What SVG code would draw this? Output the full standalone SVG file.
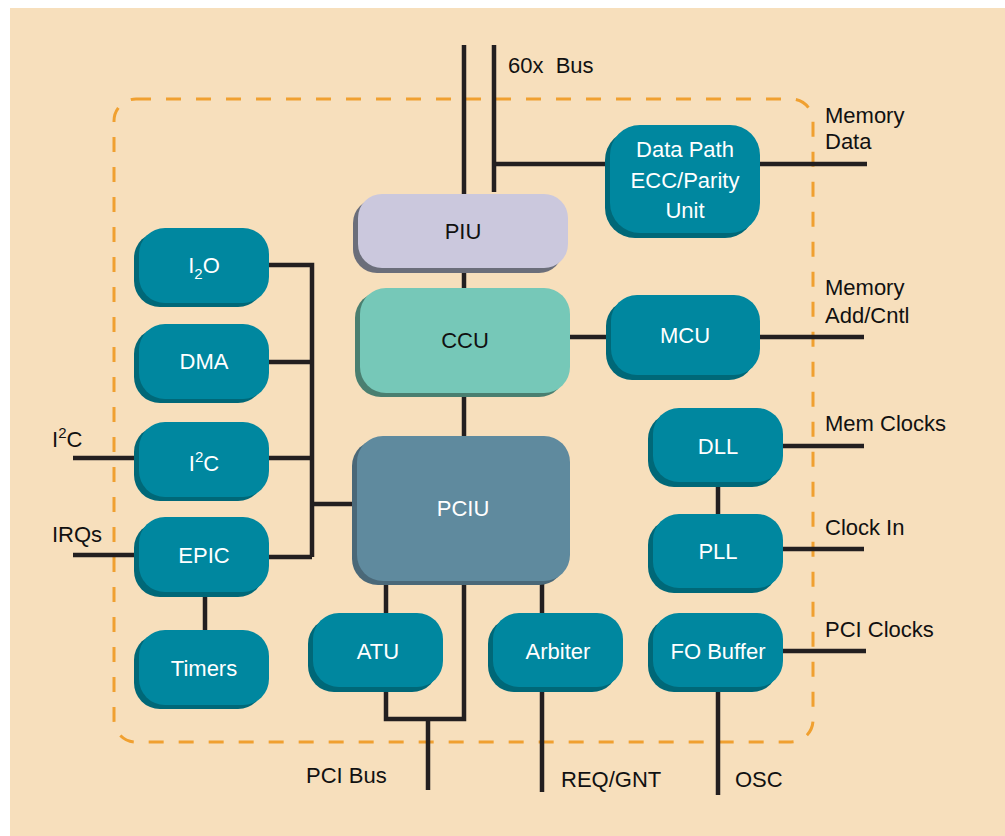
<svg xmlns="http://www.w3.org/2000/svg" width="1005" height="836" viewBox="0 0 1005 836">
  <style>
    .lbl { font-family: "Liberation Sans", Arial, sans-serif; font-size: 22px; fill: #111; }
    .nt { font-family: "Liberation Sans", Arial, sans-serif; font-size: 22px; fill: #ffffff; text-anchor: middle; }
    .nt.dark { fill: #111; }
    .sub { font-size: 15px; }
    .teal { fill: #00879f; }
    .teal-sh { fill: #006878; }
    .wire { stroke: #231f20; stroke-width: 4.5; fill: none; stroke-linecap: butt; }
  </style>

  <!-- page background -->
  <rect x="0" y="0" width="1005" height="836" fill="#ffffff"/>
  <rect x="10" y="8" width="995" height="828" fill="#f7dfbc"/>

  <!-- chip boundary -->
  <rect x="114" y="99" width="699" height="643" rx="22" fill="none" stroke="#f0a030" stroke-width="3" stroke-dasharray="15 15"/>

  <!-- connectors -->
  <g id="connectors" class="wire">
    <!-- 60x bus -->
    <path d="M464 45 V194"/>
    <path d="M494 45 V192"/>
    <path d="M494 164 H606"/>
    <path d="M760 164 H867"/>
    <!-- core chain -->
    <path d="M464 268 V288"/>
    <path d="M464 393 V436"/>
    <path d="M570 337 H611"/>
    <path d="M760 337 H864"/>
    <!-- left peripheral bus -->
    <path d="M269 265 H312 V557"/>
    <path d="M269 362 H312"/>
    <path d="M269 458 H312"/>
    <path d="M269 557 H312"/>
    <path d="M312 504 H352"/>
    <path d="M73 458 H135"/>
    <path d="M73 555 H135"/>
    <path d="M205 592 V630"/>
    <!-- PCI side -->
    <path d="M386 580 V613"/>
    <path d="M386 687 V719 H464 V580"/>
    <path d="M428 719 V790"/>
    <path d="M542 580 V613"/>
    <path d="M542 687 V792"/>
    <!-- clocks -->
    <path d="M783 446 H864"/>
    <path d="M783 549 H864"/>
    <path d="M783 651 H866"/>
    <path d="M718 482 V514"/>
    <path d="M718 687 V795"/>
  </g>

  <!-- nodes -->
  <g id="node-i2o">
    <rect class="teal-sh" x="134" y="232" width="130" height="75" rx="26"/>
    <rect class="teal" x="139" y="228" width="130" height="75" rx="26"/>
    <text class="nt" x="204" y="273">I<tspan class="sub" dy="6">2</tspan><tspan dy="-6">O</tspan></text>
  </g>
  <g id="node-dma">
    <rect class="teal-sh" x="134" y="328" width="130" height="75" rx="26"/>
    <rect class="teal" x="139" y="324" width="130" height="75" rx="26"/>
    <text class="nt" x="204" y="369">DMA</text>
  </g>
  <g id="node-i2c">
    <rect class="teal-sh" x="134" y="426" width="130" height="75" rx="26"/>
    <rect class="teal" x="139" y="422" width="130" height="75" rx="26"/>
    <text class="nt" x="204" y="471">I<tspan class="sub" dy="-9">2</tspan><tspan dy="9">C</tspan></text>
  </g>
  <g id="node-epic">
    <rect class="teal-sh" x="134" y="522" width="130" height="75" rx="26"/>
    <rect class="teal" x="139" y="517" width="130" height="75" rx="26"/>
    <text class="nt" x="204" y="563">EPIC</text>
  </g>
  <g id="node-timers">
    <rect class="teal-sh" x="134" y="634" width="130" height="75" rx="26"/>
    <rect class="teal" x="139" y="630" width="130" height="75" rx="26"/>
    <text class="nt" x="204" y="676">Timers</text>
  </g>
  <g id="node-piu">
    <rect x="353" y="199" width="210" height="74" rx="24" fill="#6b6e7a"/>
    <rect x="358" y="194" width="210" height="74" rx="24" fill="#cbc8dd"/>
    <text class="nt dark" x="463" y="239">PIU</text>
  </g>
  <g id="node-ccu">
    <rect x="355" y="292" width="210" height="105" rx="26" fill="#4a7f70"/>
    <rect x="360" y="288" width="210" height="105" rx="26" fill="#76c8b8"/>
    <text class="nt dark" x="465" y="348">CCU</text>
  </g>
  <g id="node-pciu">
    <rect x="352" y="440" width="213" height="145" rx="26" fill="#4a6878"/>
    <rect x="357" y="436" width="213" height="145" rx="26" fill="#5f8a9e"/>
    <text class="nt" x="463" y="516">PCIU</text>
  </g>
  <g id="node-atu">
    <rect class="teal-sh" x="308" y="618" width="130" height="74" rx="26"/>
    <rect class="teal" x="313" y="613" width="130" height="74" rx="26"/>
    <text class="nt" x="378" y="659">ATU</text>
  </g>
  <g id="node-arbiter">
    <rect class="teal-sh" x="488" y="618" width="130" height="74" rx="26"/>
    <rect class="teal" x="493" y="613" width="130" height="74" rx="26"/>
    <text class="nt" x="558" y="659">Arbiter</text>
  </g>
  <g id="node-fobuffer">
    <rect class="teal-sh" x="648" y="618" width="130" height="74" rx="26"/>
    <rect class="teal" x="653" y="613" width="130" height="74" rx="26"/>
    <text class="nt" x="718" y="659">FO Buffer</text>
  </g>
  <g id="node-dll">
    <rect class="teal-sh" x="648" y="413" width="130" height="74" rx="26"/>
    <rect class="teal" x="653" y="408" width="130" height="74" rx="26"/>
    <text class="nt" x="718" y="454">DLL</text>
  </g>
  <g id="node-pll">
    <rect class="teal-sh" x="648" y="519" width="130" height="74" rx="26"/>
    <rect class="teal" x="653" y="514" width="130" height="74" rx="26"/>
    <text class="nt" x="718" y="559">PLL</text>
  </g>
  <g id="node-mcu">
    <rect class="teal-sh" x="606" y="300" width="149" height="80" rx="26"/>
    <rect class="teal" x="611" y="295" width="149" height="80" rx="26"/>
    <text class="nt" x="685" y="343">MCU</text>
  </g>
  <g id="node-datapath">
    <rect class="teal-sh" x="605" y="130" width="150" height="108" rx="30"/>
    <rect class="teal" x="610" y="125" width="150" height="108" rx="30"/>
    <text class="nt" x="685" y="157">Data Path</text>
    <text class="nt" x="685" y="188">ECC/Parity</text>
    <text class="nt" x="685" y="218">Unit</text>
  </g>

  <!-- external signal labels -->
  <g id="labels">
    <text class="lbl" x="508" y="73" xml:space="preserve">60x  Bus</text>
    <text class="lbl" x="825" y="123">Memory</text>
    <text class="lbl" x="825" y="149">Data</text>
    <text class="lbl" x="825" y="295">Memory</text>
    <text class="lbl" x="825" y="323">Add/Cntl</text>
    <text class="lbl" x="825" y="431">Mem Clocks</text>
    <text class="lbl" x="825" y="535">Clock In</text>
    <text class="lbl" x="825" y="637">PCI Clocks</text>
    <text class="lbl" x="52" y="447">I<tspan class="sub" dy="-9">2</tspan><tspan dy="9">C</tspan></text>
    <text class="lbl" x="52" y="542">IRQs</text>
    <text class="lbl" x="306" y="783">PCI Bus</text>
    <text class="lbl" x="561" y="787">REQ/GNT</text>
    <text class="lbl" x="735" y="787">OSC</text>
  </g>
</svg>
